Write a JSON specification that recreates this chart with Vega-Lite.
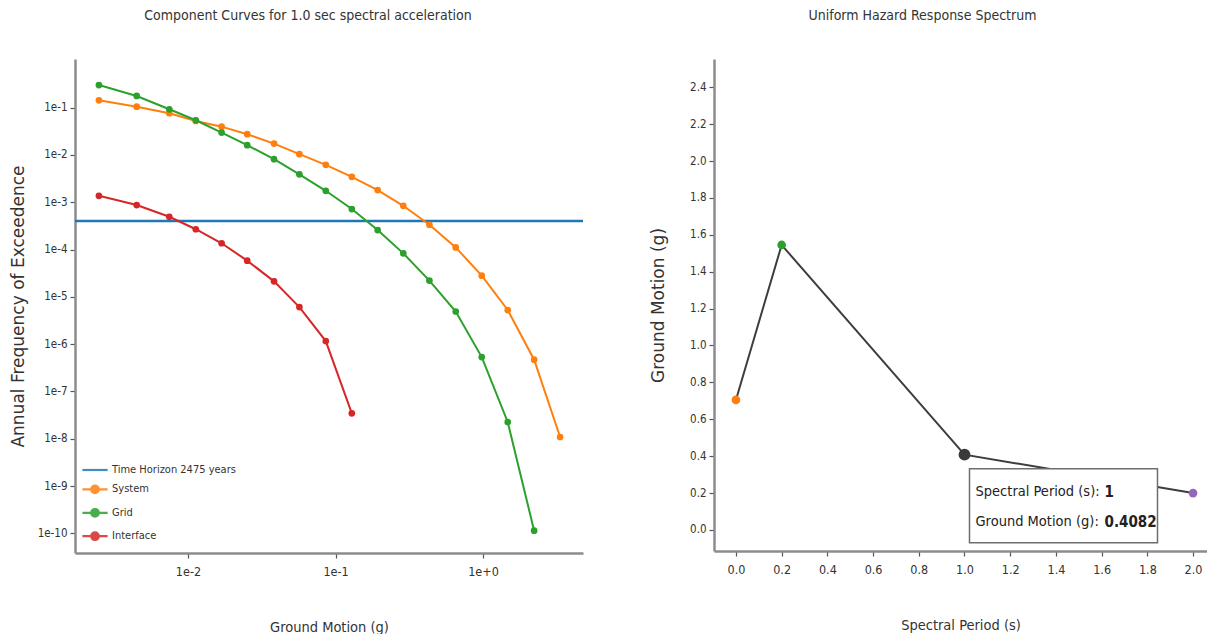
{
  "$schema": "https://vega.github.io/schema/vega-lite/v6.json",
  "background": "white",
  "padding": {"left": 9, "top": 9, "right": 0, "bottom": 0},
  "spacing": 64,
  "config": {
    "view": {"stroke": null},
    "font": "Liberation Sans Narrow, DejaVu Sans Condensed, Liberation Sans, sans-serif",
    "axis": {
      "grid": false,
      "domainColor": "#8c8c8c",
      "domainWidth": 2.5,
      "tickColor": "#555555",
      "tickWidth": 1.2,
      "tickSize": 5,
      "labelColor": "#333333",
      "labelFont": "Liberation Sans Narrow, DejaVu Sans Condensed, sans-serif",
      "titleColor": "#333333",
      "titleFontWeight": "normal"
    },
    "axisX": {"labelFontSize": 12.5, "labelPadding": 7, "titleFontSize": 14.5, "titlePadding": 43, "titleFont": "Liberation Sans Narrow, DejaVu Sans Condensed, sans-serif"},
    "axisY": {"labelFontSize": 11.5, "labelPadding": 3, "titleFontSize": 17, "titleFont": "DejaVu Sans, sans-serif"},
    "title": {"font": "Liberation Sans Narrow, DejaVu Sans Condensed, sans-serif", "fontSize": 14, "fontWeight": "normal", "color": "#333333"}
  },
  "datasets": {
    "horizon": [{"series": "Time Horizon 2475 years", "afe": 0.000404}],
    "curves": [
      {"series": "System", "gm": 0.00249, "afe": 0.143},
      {"series": "System", "gm": 0.00449, "afe": 0.105},
      {"series": "System", "gm": 0.00747, "afe": 0.0762},
      {"series": "System", "gm": 0.0113, "afe": 0.0524},
      {"series": "System", "gm": 0.0169, "afe": 0.0397},
      {"series": "System", "gm": 0.0252, "afe": 0.0275},
      {"series": "System", "gm": 0.0383, "afe": 0.0174},
      {"series": "System", "gm": 0.0569, "afe": 0.0104},
      {"series": "System", "gm": 0.0859, "afe": 0.00618},
      {"series": "System", "gm": 0.129, "afe": 0.00345},
      {"series": "System", "gm": 0.193, "afe": 0.00181},
      {"series": "System", "gm": 0.288, "afe": 0.000843},
      {"series": "System", "gm": 0.433, "afe": 0.000335},
      {"series": "System", "gm": 0.653, "afe": 0.000111},
      {"series": "System", "gm": 0.98, "afe": 0.0000281},
      {"series": "System", "gm": 1.47, "afe": 0.00000527},
      {"series": "System", "gm": 2.22, "afe": 4.69e-7},
      {"series": "System", "gm": 3.33, "afe": 1.09e-8},
      {"series": "Grid", "gm": 0.00249, "afe": 0.301},
      {"series": "Grid", "gm": 0.00449, "afe": 0.177},
      {"series": "Grid", "gm": 0.00747, "afe": 0.0925},
      {"series": "Grid", "gm": 0.0113, "afe": 0.0542},
      {"series": "Grid", "gm": 0.0169, "afe": 0.0297},
      {"series": "Grid", "gm": 0.0252, "afe": 0.0161},
      {"series": "Grid", "gm": 0.0383, "afe": 0.00815},
      {"series": "Grid", "gm": 0.0569, "afe": 0.0039},
      {"series": "Grid", "gm": 0.0859, "afe": 0.00175},
      {"series": "Grid", "gm": 0.129, "afe": 0.000719},
      {"series": "Grid", "gm": 0.193, "afe": 0.000259},
      {"series": "Grid", "gm": 0.288, "afe": 0.0000832},
      {"series": "Grid", "gm": 0.433, "afe": 0.0000221},
      {"series": "Grid", "gm": 0.653, "afe": 0.0000049},
      {"series": "Grid", "gm": 0.98, "afe": 5.32e-7},
      {"series": "Grid", "gm": 1.47, "afe": 2.26e-8},
      {"series": "Grid", "gm": 2.22, "afe": 1.14e-10},
      {"series": "Interface", "gm": 0.00249, "afe": 0.00137},
      {"series": "Interface", "gm": 0.00449, "afe": 0.000873},
      {"series": "Interface", "gm": 0.00747, "afe": 0.000494},
      {"series": "Interface", "gm": 0.0113, "afe": 0.000269},
      {"series": "Interface", "gm": 0.0169, "afe": 0.000136},
      {"series": "Interface", "gm": 0.0252, "afe": 0.0000583},
      {"series": "Interface", "gm": 0.0383, "afe": 0.0000213},
      {"series": "Interface", "gm": 0.0569, "afe": 0.00000609},
      {"series": "Interface", "gm": 0.0859, "afe": 0.00000116},
      {"series": "Interface", "gm": 0.129, "afe": 3.45e-8}
    ],
    "uhrs": [
      {"period": 0, "gm": 0.705},
      {"period": 0.2, "gm": 1.545},
      {"period": 1, "gm": 0.4082},
      {"period": 2, "gm": 0.2}
    ],
    "hover": [{"period": 1, "gm": 0.4082}]
  },
  "resolve": {"scale": {"color": "independent"}},
  "hconcat": [
    {
      "width": 508,
      "height": 494,
      "title": {"text": "Component Curves for 1.0 sec spectral acceleration", "frame": "group", "anchor": "middle", "dx": -21, "offset": 36},
      "encoding": {
        "y": {
          "field": "afe", "type": "quantitative",
          "scale": {"type": "log", "domain": [3.84e-11, 1.07], "nice": false},
          "axis": {"title": "Annual Frequency of Exceedence", "values": [0.1, 0.01, 0.001, 0.0001, 0.00001, 0.000001, 1e-7, 1e-8, 1e-9, 1e-10], "format": ".0e", "titlePadding": 10}
        },
        "color": {
          "field": "series", "type": "nominal",
          "scale": {"domain": ["Time Horizon 2475 years", "System", "Grid", "Interface"], "range": ["#1f77b4", "#ff7f0e", "#2ca02c", "#d62728"]},
          "legend": {
            "title": null,
            "orient": "bottom-left",
            "offset": 8,
            "padding": 0,
            "rowPadding": 2.4,
            "labelFontSize": 11,
            "labelColor": "#333333",
            "labelOffset": 5,
            "symbolSize": 441,
            "symbolStrokeWidth": 2.2,
            "symbolType": "M-1.2,0H1.2",
            "encode": {
              "symbols": {
                "update": {
                  "shape": {"signal": "datum.value === 'Time Horizon 2475 years' ? 'M-1.2,0H1.2' : 'M-1.2,0H1.2M0.36,0A0.36,0.36,0,1,1,-0.36,0A0.36,0.36,0,1,1,0.36,0Z'"},
                  "fill": {"signal": "datum.value === 'System' ? '#ff7f0e' : datum.value === 'Grid' ? '#2ca02c' : datum.value === 'Interface' ? '#d62728' : 'transparent'"},
                  "stroke": {"signal": "datum.value === 'System' ? '#ff7f0e' : datum.value === 'Grid' ? '#2ca02c' : datum.value === 'Interface' ? '#d62728' : '#1f77b4'"},
                  "opacity": {"value": 0.85}
                }
              }
            }
          }
        }
      },
      "layer": [
        {
          "data": {"name": "horizon"},
          "mark": {"type": "rule", "strokeWidth": 2.5},
          "encoding": {}
        },
        {
          "data": {"name": "curves"},
          "mark": {"type": "line", "strokeWidth": 2, "point": {"filled": true, "size": 45, "opacity": 1}},
          "encoding": {
            "x": {
              "field": "gm", "type": "quantitative",
              "scale": {"type": "log", "domain": [0.001714, 4.76], "nice": false},
              "axis": {"title": "Ground Motion (g)", "values": [0.01, 0.1, 1], "format": ".0e"}
            }
          }
        }
      ]
    },
    {
      "width": 493,
      "height": 492,
      "title": {"text": "Uniform Hazard Response Spectrum", "frame": "group", "anchor": "middle", "dx": -38, "offset": 36},
      "encoding": {
        "x": {
          "field": "period", "type": "quantitative",
          "scale": {"domain": [-0.096, 2.061], "nice": false, "zero": false},
          "axis": {"title": "Spectral Period (s)", "values": [0, 0.2, 0.4, 0.6, 0.8, 1, 1.2, 1.4, 1.6, 1.8, 2], "format": ".1f"}
        },
        "y": {
          "field": "gm", "type": "quantitative",
          "scale": {"domain": [-0.114, 2.553], "nice": false, "zero": false},
          "axis": {"title": "Ground Motion (g)", "values": [0, 0.2, 0.4, 0.6, 0.8, 1, 1.2, 1.4, 1.6, 1.8, 2, 2.2, 2.4], "format": ".1f", "titlePadding": 22}
        }
      },
      "layer": [
        {
          "data": {"name": "uhrs"},
          "mark": {"type": "line", "color": "#3d3d3d", "strokeWidth": 2}
        },
        {
          "data": {"name": "uhrs"},
          "mark": {"type": "circle", "size": 75, "opacity": 1},
          "encoding": {
            "color": {"field": "period", "type": "nominal", "scale": {"domain": [0, 0.2, 1, 2], "range": ["#ff7f0e", "#2ca02c", "#3a3a3a", "#9467bd"]}, "legend": null}
          }
        },
        {
          "data": {"name": "hover"},
          "mark": {"type": "circle", "size": 140, "opacity": 1, "color": "#3a3a3a"}
        },
        {
          "data": {"name": "hover"},
          "mark": {"type": "rect", "fill": "white", "stroke": "#6e6e6e", "strokeWidth": 1.5, "xOffset": 5, "x2Offset": 193, "yOffset": 14, "y2Offset": 88},
          "encoding": {"x2": {"field": "period"}, "y2": {"field": "gm"}}
        },
        {
          "data": {"name": "hover"},
          "mark": {"type": "text", "text": "Spectral Period (s):", "align": "left", "baseline": "middle", "dx": 11, "dy": 37.5, "fontSize": 14.5, "color": "#222222"}
        },
        {
          "data": {"name": "hover"},
          "mark": {"type": "text", "align": "left", "baseline": "middle", "dx": 140, "dy": 37.5, "fontSize": 15, "fontWeight": "bold", "color": "#222222"},
          "encoding": {"text": {"field": "period", "type": "quantitative"}}
        },
        {
          "data": {"name": "hover"},
          "mark": {"type": "text", "text": "Ground Motion (g):", "align": "left", "baseline": "middle", "dx": 11, "dy": 67, "fontSize": 14.5, "color": "#222222"}
        },
        {
          "data": {"name": "hover"},
          "mark": {"type": "text", "align": "left", "baseline": "middle", "dx": 140, "dy": 67, "fontSize": 15, "fontWeight": "bold", "color": "#222222"},
          "encoding": {"text": {"field": "gm", "type": "quantitative"}}
        }
      ]
    }
  ]
}
